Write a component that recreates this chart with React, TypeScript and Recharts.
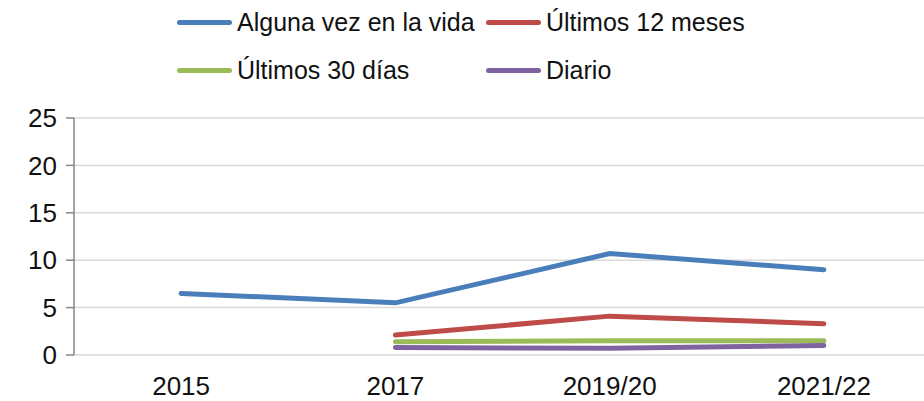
import { LineChart, Line, XAxis, YAxis, CartesianGrid, Legend } from "recharts";

const categories = ["2015", "2017", "2019/20", "2021/22"];
const alguna = [6.5, 5.5, 10.7, 9.0];
const ultimos12 = [null, 2.1, 4.1, 3.3];
const ultimos30 = [null, 1.4, 1.5, 1.5];
const diario = [null, 0.8, 0.7, 1.0];
const yTicks = [0, 5, 10, 15, 20, 25];

const SERIES = [
  { key: "alguna", name: "Alguna vez en la vida", color: "#4a7ebb" },
  { key: "ultimos12", name: "Últimos 12 meses", color: "#be4b48" },
  { key: "ultimos30", name: "Últimos 30 días", color: "#9bbb59" },
  { key: "diario", name: "Diario", color: "#7f63a1" },
];

const data = categories.map((c, i) => ({
  x: i + 0.5,
  cat: c,
  alguna: alguna[i],
  ultimos12: ultimos12[i],
  ultimos30: ultimos30[i],
  diario: diario[i],
}));

const FONT = "'Liberation Sans', Arial, sans-serif";

function LegendBox() {
  // two rows, two columns like the original
  const pos = [
    { left: 177, top: 0 },
    { left: 486, top: 0 },
    { left: 177, top: 48 },
    { left: 486, top: 48 },
  ];
  return (
    <div style={{ position: "relative", width: 924, height: 96 }}>
      {SERIES.map((s, i) => (
        <div
          key={s.key}
          style={{
            position: "absolute",
            left: pos[i].left,
            top: pos[i].top,
            height: 44,
            display: "flex",
            alignItems: "center",
            fontFamily: FONT,
            fontSize: 25,
            color: "#111",
            whiteSpace: "nowrap",
          }}
        >
          <span
            style={{
              display: "inline-block",
              width: 55,
              height: 5,
              borderRadius: 3,
              background: s.color,
              marginRight: 5,
            }}
          />
          {s.name}
        </div>
      ))}
    </div>
  );
}

export default function App() {
  return (
    <div style={{ position: "absolute", left: 0, top: 0, width: 924, height: 401, overflow: "hidden", background: "#fff" }}>
      <LineChart width={931} height={401} data={data} margin={{ top: 22, right: 0, bottom: 0, left: 0 }}>
        <CartesianGrid vertical={false} stroke="#d9d9d9" strokeWidth={1.5} />
        <XAxis
          dataKey="x"
          type="number"
          domain={[0, 4]}
          ticks={[0, 1, 2, 3, 4]}
          tickFormatter={() => ""}
          height={0}
          stroke="#868686"
          strokeWidth={1.5}
          tickSize={8}
        />
        <XAxis
          xAxisId="lbl"
          dataKey="x"
          type="number"
          domain={[0, 4]}
          ticks={[0.5, 1.5, 2.5, 3.5]}
          tickFormatter={(v: number) => categories[Math.floor(v)]}
          height={46}
          axisLine={false}
          tickLine={false}
          tickSize={6}
          tickMargin={16}
          tick={{ fontSize: 26, fill: "#111", fontFamily: FONT }}
          interval={0}
        />
        <YAxis
          width={74}
          domain={[0, 25]}
          ticks={yTicks}
          stroke="#868686"
          strokeWidth={1.5}
          tickSize={8}
          tickMargin={9}
          tick={{ fontSize: 26, fill: "#111", fontFamily: FONT }}
          interval={0}
        />
        <Legend verticalAlign="top" align="left" wrapperStyle={{ top: 0, left: 0 }} content={() => <LegendBox />} />
        {SERIES.map((s) => (
          <Line
            key={s.key}
            dataKey={s.key}
            name={s.name}
            stroke={s.color}
            strokeWidth={5}
            strokeLinecap="round"
            dot={false}
            activeDot={false}
            isAnimationActive={false}
          />
        ))}
      </LineChart>
    </div>
  );
}
